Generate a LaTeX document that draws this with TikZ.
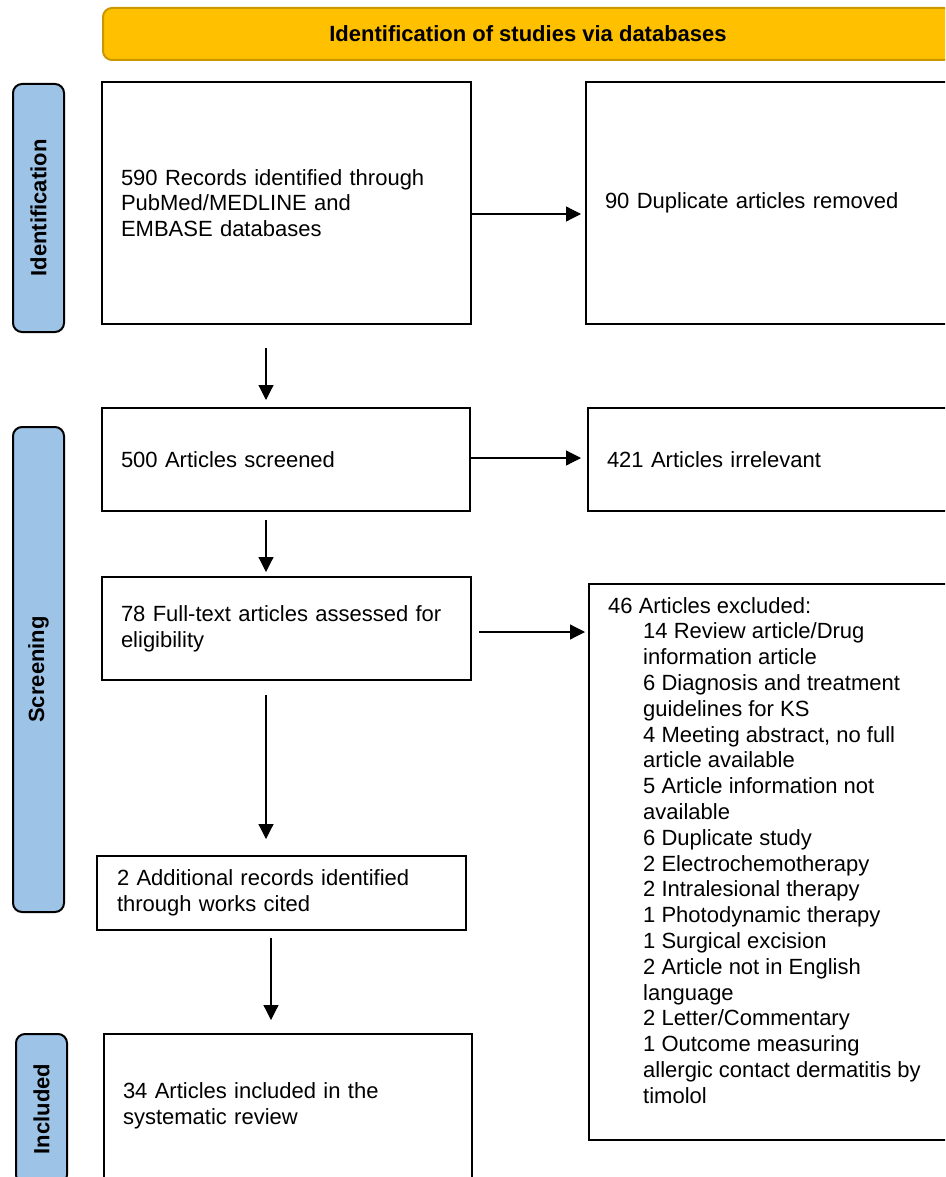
\documentclass[tikz,border=0pt]{standalone}
\usepackage{fontspec}
\setmainfont{Liberation Sans}
\usetikzlibrary{arrows.meta,calc}
\definecolor{bannerfill}{HTML}{FFC000}
\definecolor{bannerline}{HTML}{C99700}
\definecolor{sidefill}{HTML}{9DC3E6}
\begin{document}
\begin{tikzpicture}[x=1pt,y=-1pt,
  every node/.style={font=\fontsize{22}{25.8}\selectfont},
  box/.style={draw=black,line width=2pt,fill=white,inner xsep=19pt,inner ysep=0pt,align=left,anchor=center},
  sidelabel/.style={draw=black,line width=2pt,fill=sidefill,rounded corners=9pt,minimum width=51pt,inner sep=0pt},
  sidetext/.style={rotate=90,font=\fontsize{22}{25.8}\selectfont\bfseries},
  arr/.style={line width=1.2pt,-{Triangle[length=15pt,width=15pt]}}]
\useasboundingbox (0,0) rectangle (945,1177);
\clip (0,0) rectangle (945,1177);
% banner
\node[draw=bannerline,line width=2pt,fill=bannerfill,rounded corners=9pt,minimum width=850pt,minimum height=52pt,inner sep=0pt,font=\fontsize{22}{25.8}\selectfont\bfseries] (banner) at (528,34) {Identification of studies via databases};
% side labels
\node[sidelabel,minimum height=248pt] (sideI) at (38.5,208) {};
\node[sidetext] (sideItext) at (sideI.center) {Identification};
\node[sidelabel,minimum height=485pt] (sideS) at (38.5,669.5) {};
\node[sidetext] (sideStext) at (sideS.center) {Screening};
\node[sidelabel,minimum height=150pt] (sideN) at (41.5,1109) {};
\node[sidetext] (sideNtext) at (sideN.center) {Included};
% boxes
\node[box,text width=331pt,minimum height=242pt] (A) at (286.5,203) {590 Records identified through\\PubMed/MEDLINE and\\EMBASE databases};
\node[box,text width=382pt,minimum height=242pt] (B) at (796,203) {90 Duplicate articles removed};
\node[box,text width=330pt,minimum height=103pt] (C) at (286,459.5) {500 Articles screened};
\node[box,text width=382pt,minimum height=103pt] (D) at (798,459.5) {421 Articles irrelevant};
\node[box,text width=331pt,minimum height=103pt] (E) at (286.5,628.5) {78 Full-text articles assessed for\\eligibility};
\node[box,text width=382pt,minimum height=556pt] (F) at (799,862) {};
\node[anchor=north west,inner sep=0pt,align=left] (Ftext) at (608,597) {46 Articles excluded:\\
\hspace*{35pt}14 Review article/Drug\\
\hspace*{35pt}information article\\
\hspace*{35pt}6 Diagnosis and treatment\\
\hspace*{35pt}guidelines for KS\\
\hspace*{35pt}4 Meeting abstract, no full\\
\hspace*{35pt}article available\\
\hspace*{35pt}5 Article information not\\
\hspace*{35pt}available\\
\hspace*{35pt}6 Duplicate study\\
\hspace*{35pt}2 Electrochemotherapy\\
\hspace*{35pt}2 Intralesional therapy\\
\hspace*{35pt}1 Photodynamic therapy\\
\hspace*{35pt}1 Surgical excision\\
\hspace*{35pt}2 Article not in English\\
\hspace*{35pt}language\\
\hspace*{35pt}2 Letter/Commentary\\
\hspace*{35pt}1 Outcome measuring\\
\hspace*{35pt}allergic contact dermatitis by\\
\hspace*{35pt}timolol};
\node[box,inner xsep=20pt,text width=329pt,minimum height=74pt] (G) at (281.5,893) {2 Additional records identified\\through works cited};
\node[box,text width=330pt,minimum height=144pt] (H) at (288,1106) {34 Articles included in the\\systematic review};
% arrows
\draw[arr] ($(A.east)+(0,11)$) -- ($(B.west)+(-4,11)$);
\draw[arr] ($(C.east)+(0,-1.5)$) -- ($(D.west)+(-6,-1.5)$);
\draw[arr] ($(E.east)+(7,3.5)$) -- ($(F.west |- E.east)+(-3,3.5)$);
\draw[arr] ($(A.south)+(-20.5,23)$) -- ($(C.north)+(-20,-7)$);
\draw[arr] ($(C.south)+(-20,8)$) -- ($(E.north)+(-20.5,-4)$);
\draw[arr] ($(E.south)+(-20.5,14)$) -- ($(G.north)+(-15.5,-16)$);
\draw[arr] ($(G.south)+(-10.5,7)$) -- ($(H.north)+(-17,-13)$);
\end{tikzpicture}
\end{document}
